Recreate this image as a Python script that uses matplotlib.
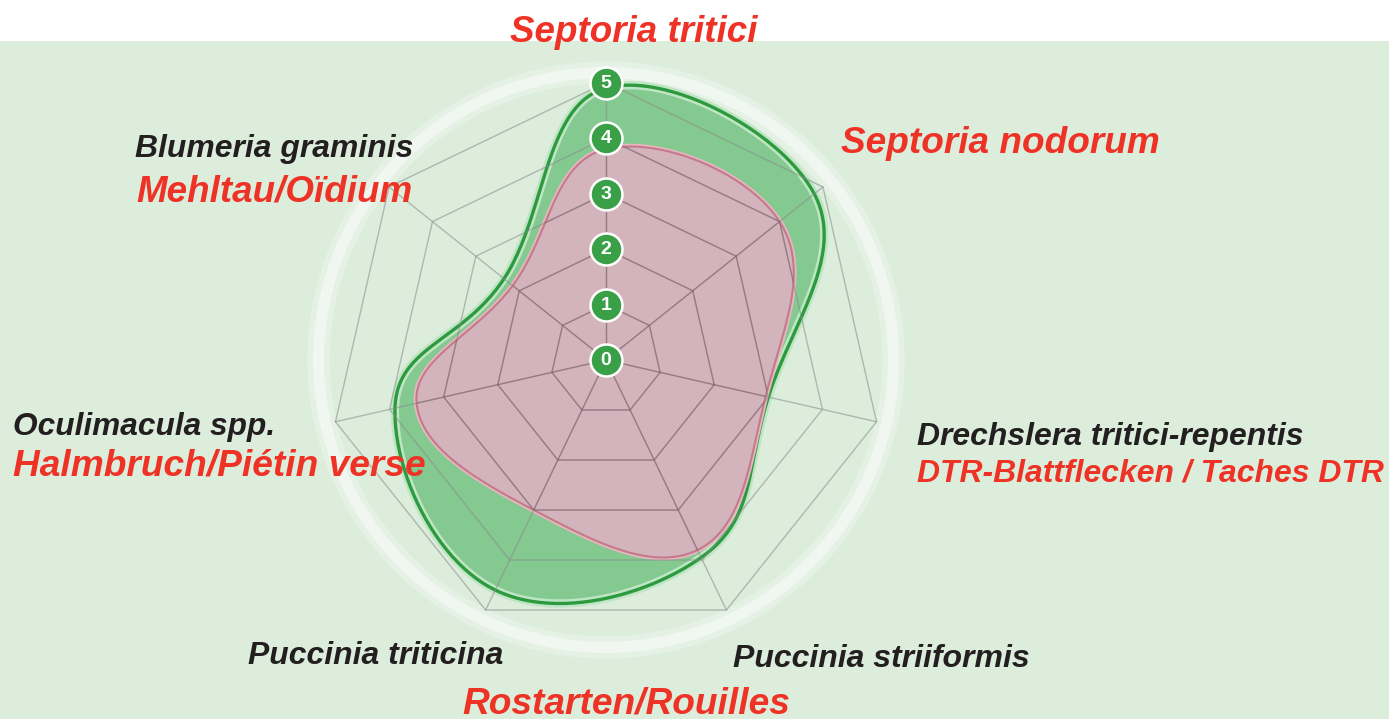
import numpy as np
import matplotlib
matplotlib.use("Agg")
import matplotlib.pyplot as plt
from matplotlib.patches import Polygon, Rectangle, Circle

# ---------------- data ----------------
categories = ["Septoria tritici", "Septoria nodorum", "Drechslera tritici-repentis",
              "Puccinia striiformis", "Puccinia triticina", "Oculimacula spp.",
              "Blumeria graminis"]
green_values = [4.9, 4.8, 3.0, 3.95, 4.6, 3.9, 2.35]
pink_values = [3.8, 4.0, 2.95, 3.8, 3.0, 3.5, 2.15]
ring_values = [0, 1, 2, 3, 4, 5]

label_texts = ["Septoria tritici", "Septoria nodorum", "Blumeria graminis", "Mehltau/Oïdium",
               "Oculimacula spp.", "Halmbruch/Piétin verse", "Drechslera tritici-repentis",
               "DTR-Blattflecken / Taches DTR", "Puccinia triticina", "Puccinia striiformis",
               "Rostarten/Rouilles"]
label_red = [True, True, False, True, False, True, False, True, False, False, True]

# ---------------- layout / style ----------------
W, H = 1389, 719
label_pos = [(510, 42, 247), (841, 153, 319), (135, 157, 278), (136, 202, 276),
             (13, 435, 262), (13, 475, 412), (917, 445, 385), (917, 482, 466),
             (248, 664, 255), (733, 667, 297), (462, 713, 328)]
RED = "#EE3326"
BLACK = "#231F20"
BG = "#DCEDDC"

fig = plt.figure(figsize=(W / 100, H / 100), dpi=100)
fig.patch.set_facecolor("white")
fig.patches.append(Rectangle((0, 0), 1, (H - 41) / H, transform=fig.transFigure,
                             facecolor=BG, edgecolor="none", zorder=-5))

cx, cy, unit = 606, 360, 55.5
ax = fig.add_axes([0, 0, 1, 1])
ax.set_zorder(2)
ax.set_xlim(-cx / unit, (W - cx) / unit)
ax.set_ylim(-(H - cy) / unit, cy / unit)
ax.axis("off")
ax.patch.set_alpha(0)

n = len(categories)
angles = np.arange(n) * 2 * np.pi / n


def to_xy(r, a):
    return np.asarray(r) * np.sin(a), np.asarray(r) * np.cos(a)


def smooth_closed(vals, s=0.6, k=50):
    x, y = to_xy(vals, angles)
    P = np.column_stack([x, y])
    out = []
    t = np.linspace(0, 1, k, endpoint=False)[:, None]
    h00 = 2 * t**3 - 3 * t**2 + 1
    h10 = t**3 - 2 * t**2 + t
    h01 = -2 * t**3 + 3 * t**2
    h11 = t**3 - t**2
    for i in range(n):
        p0, p1 = P[i], P[(i + 1) % n]
        m0 = s * (P[(i + 1) % n] - P[i - 1])
        m1 = s * (P[(i + 2) % n] - P[i])
        out.append(h00 * p0 + h10 * m0 + h01 * p1 + h11 * m1)
    pts = np.vstack(out)
    return np.vstack([pts, pts[:1]])


# light halo ring
ax.add_patch(Circle((0, 0), 5.18, fill=False, ec="white", lw=16, alpha=0.25, zorder=1))
ax.add_patch(Circle((0, 0), 5.18, fill=False, ec="white", lw=8, alpha=0.45, zorder=1))

# green series
g = smooth_closed(green_values)
ax.add_patch(Polygon(g, closed=True, facecolor="#84C990", edgecolor="none", zorder=2))
ax.plot(g[:, 0], g[:, 1], color="#BFE6C4", lw=6, zorder=2.5, solid_capstyle="round")
ax.plot(g[:, 0], g[:, 1], color="#2E9A3F", lw=2.4, zorder=3)

# pink series
p = smooth_closed(pink_values)
pink_patch = Polygon(p, closed=True, facecolor="#D4B4BC", edgecolor="none", zorder=4)
ax.add_patch(pink_patch)
ax.plot(p[:, 0], p[:, 1], color="#E8B6C0", lw=4, zorder=3.8)
ax.plot(p[:, 0], p[:, 1], color="#C47A8A", lw=1.5, zorder=4.2)

# grid (heptagons + spokes)
closed_angles = np.append(angles, angles[0])
for r in ring_values[1:]:
    x, y = to_xy(np.full(n + 1, r), closed_angles)
    ax.plot(x, y, color="#8A8A8A", lw=1.0, alpha=0.55, zorder=5)
    ln, = ax.plot(x, y, color="#7A4A5A", lw=1.0, alpha=0.4, zorder=5.1)
    ln.set_clip_path(pink_patch)
for a in angles:
    x, y = to_xy([0, ring_values[-1]], np.array([a, a]))
    ax.plot(x, y, color="#8A8A8A", lw=1.0, alpha=0.55, zorder=5)
    ln, = ax.plot(x, y, color="#7A4A5A", lw=1.0, alpha=0.4, zorder=5.1)
    ln.set_clip_path(pink_patch)

# ring value badges on the top spoke
for v in ring_values:
    x, y = to_xy(v, 0.0)
    ax.plot([x], [y], marker="o", ms=23, mfc="#39A047", mec="white", mew=1.8, zorder=7)
    ax.text(x, y - 0.01, str(v), color="white", fontsize=14, fontweight="bold",
            ha="center", va="center", zorder=8, family=["Liberation Sans", "DejaVu Sans"])

# category labels
texts = []
for s, red, (lx, by, tw) in zip(label_texts, label_red, label_pos):
    t = fig.text(lx / W, 1 - by / H, s, color=RED if red else BLACK, fontsize=20,
                 fontweight="bold", fontstyle="italic", ha="left", va="baseline",
                 family=["Liberation Sans", "DejaVu Sans"], zorder=10)
    texts.append((t, tw))

fig.canvas.draw()
renderer = fig.canvas.get_renderer()
for t, tw in texts:
    bb = t.get_window_extent(renderer)
    t.set_fontsize(t.get_fontsize() * tw / bb.width)

fig.savefig("out.png", dpi=100, facecolor=fig.get_facecolor())
